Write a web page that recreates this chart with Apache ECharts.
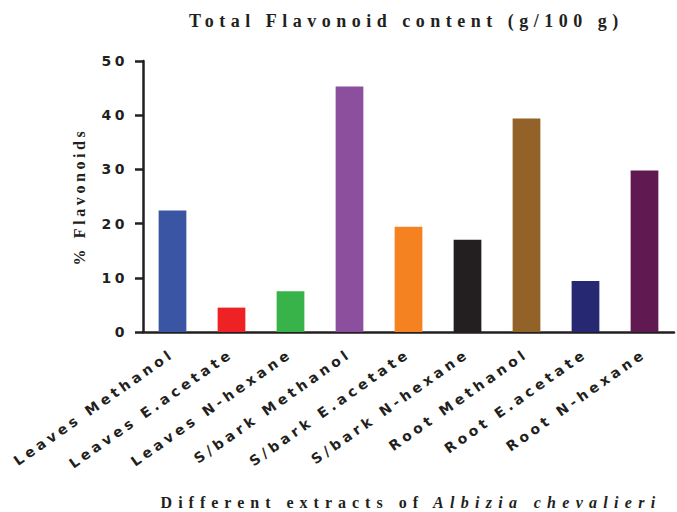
<!DOCTYPE html>
<html><head><meta charset="utf-8">
<script src="https://cdn.jsdelivr.net/npm/echarts@6/dist/echarts.min.js"></script>
<style>html,body{margin:0;padding:0;background:#fff}#c{width:677px;height:512px}</style>
</head><body><div id="c"></div>
<script>
const categories = ['Leaves Methanol','Leaves E.acetate','Leaves N-hexane','S/bark Methanol','S/bark E.acetate','S/bark N-hexane','Root Methanol','Root E.acetate','Root N-hexane'];
const values = [22.4, 4.5, 7.5, 45.3, 19.4, 17.0, 39.4, 9.4, 29.8];
const barColors = ['#3A55A4','#EE2224','#37B34A','#8B4F9E','#F58220','#231F20','#936228','#262872','#611A51'];
const yMin = 0, yMax = 50, yStep = 10;
const yTickLabels = ['0','10','20','30','40','50'];
const titleText = 'Total Flavonoid content (g/100 g)';
const yName = '% Flavonoids';
const xNamePlain = 'Different extracts of';
const xNameItalic = 'Albizia chevalieri';

const ink = '#231F20';
const chart = echarts.init(document.getElementById('c'), null, {renderer: 'svg'});
chart.setOption({
  animation: false,
  backgroundColor: '#fff',
  grid: {left: 143, right: 3, top: 61, bottom: 180, containLabel: false},
  graphic: [
    {type: 'text', left: 189, top: 12, style: {text: titleText, fill: ink, font: 'bold 18px "Liberation Serif"'}},
    {type: 'text', x: 424, y: 502, style: {text: xNamePlain, fill: ink, align: 'right', verticalAlign: 'middle', font: 'bold 16px "Liberation Serif"'}},
    {type: 'text', x: 433, y: 502, style: {text: xNameItalic, fill: ink, align: 'left', verticalAlign: 'middle', font: 'italic bold 16px "Liberation Serif"'}}
  ],
  xAxis: {
    type: 'category', data: categories,
    axisLine: {lineStyle: {color: ink, width: 2.5}},
    axisTick: {alignWithLabel: true, length: 9, lineStyle: {color: ink, width: 2.5}},
    axisLabel: {rotate: 35, margin: 20, interval: 0, color: ink, fontFamily: '"DejaVu Sans"', fontWeight: 'bold', fontSize: 14}
  },
  yAxis: {
    type: 'value', min: yMin, max: yMax, interval: yStep,
    name: yName, nameLocation: 'middle', nameRotate: 90, nameGap: 56,
    nameTextStyle: {color: ink, fontFamily: '"Liberation Serif"', fontWeight: 'bold', fontSize: 16},
    axisLine: {show: true, lineStyle: {color: ink, width: 2.5}},
    axisTick: {show: true, length: 8, lineStyle: {color: ink, width: 2.5}},
    splitLine: {show: false},
    axisLabel: {margin: 15, color: ink, fontFamily: '"DejaVu Sans"', fontWeight: 'bold', fontSize: 14,
      formatter: (v) => yTickLabels[Math.round((v - yMin) / yStep)]}
  },
  series: [{
    type: 'bar', barWidth: '47%',
    data: values.map((v, i) => ({value: v, itemStyle: {color: barColors[i]}}))
  }]
});

function spacingFor(s) {
  if (s === titleText) return 5.5;
  if (s === yName) return 3.6;
  if (s === xNamePlain) return 6;
  if (s === xNameItalic) return 6.3;
  if (categories.indexOf(s) >= 0) return 3.9;
  if (yTickLabels.indexOf(s) >= 0) return 3.5;
  return null;
}
function applySpacing() {
  document.querySelectorAll('#c svg text').forEach(t => {
    const ls = spacingFor((t.textContent || '').trim());
    if (ls != null) t.setAttribute('letter-spacing', ls);
  });
}
applySpacing();
chart.on('finished', applySpacing);
requestAnimationFrame(applySpacing);
setTimeout(applySpacing, 50);
</script>
</body></html>
